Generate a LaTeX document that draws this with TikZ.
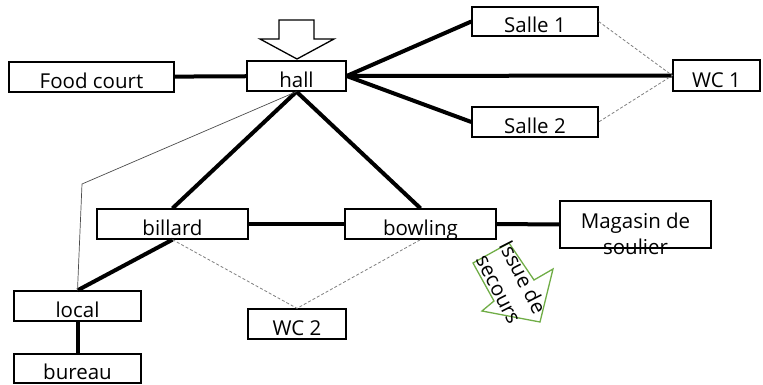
\documentclass[tikz,border=0pt]{standalone}
\usepackage{fontspec}
\setmainfont{Open Sans}
\usepackage{xcolor}
\usepackage{tikz}
\usetikzlibrary{positioning, arrows.meta}
\definecolor{exitgreen}{HTML}{70AD47}
\definecolor{dashgray}{HTML}{7F7F7F}

\tikzset{
  room/.style={draw, line width=1.3pt, inner sep=0pt, minimum height=30pt,
               text height=26.5pt, text depth=3.5pt},
  txt/.style={inner sep=0pt, anchor=base},
  corridor/.style={line width=4pt},
  link/.style={line width=0.7pt, draw=black!70},
  wc/.style={line width=0.8pt, draw=dashgray, dash pattern=on 3pt off 2pt}
}

\begin{document}
\begin{tikzpicture}[x=1pt, y=-1pt, font=\fontsize{20.5}{25}\selectfont]
  \useasboundingbox (0,0) rectangle (763,385);

  % rooms
  \node[room, minimum width=165pt] (food) at (91.5,77) {Food court};
  \node[room, minimum width=99pt] (hall) at (296.5,76) {hall};
  \node[room, minimum width=126pt, minimum height=29pt, text height=25.5pt] (salle1) at (535,21.5) {Salle 1};
  \node[room, minimum width=126pt] (salle2) at (535,122) {Salle 2};
  \node[room, minimum width=87pt, minimum height=31pt, text height=27.5pt] (wc1) at (716.5,75.5) {WC 1};
  \node[room, minimum width=151pt] (billard) at (172.5,224) {billard};
  \node[room, minimum width=151pt] (bowling) at (420.5,224) {bowling};
  \node[room, minimum width=151pt, minimum height=47pt] (shoes) at (635.5,224.5) {};
  \node[txt] (shoes1) at (635.5,228) {Magasin de};
  \node[txt] (shoes2) at (635.5,254) {soulier};
  \node[room, minimum width=127pt] (local) at (77.5,306) {local};
  \node[room, minimum width=127pt, minimum height=29pt, text height=25.5pt] (bureau) at (77.5,368.5) {bureau};
  \node[room, minimum width=98pt] (wc2) at (297,324) {WC 2};

  % main corridors
  \draw[corridor] (food) -- (hall);
  \draw[corridor] (hall.east) -- (salle1.west);
  \draw[corridor] (hall.east) -- (wc1.west);
  \draw[corridor] (hall.east) -- (salle2.west);
  \draw[corridor] (hall.south) -- (billard.north);
  \draw[corridor] (hall.south) -- (bowling.north);
  \draw[corridor] (billard) -- (bowling);
  \draw[corridor] (bowling) -- (shoes);
  \draw[corridor] (billard.south) -- (local.north);
  \draw[corridor] (local) -- (bureau);

  % secondary passage
  \coordinate (bend) at (82,184);
  \draw[link] (hall.south) -- (bend) -- (local.north);

  % toilets
  \draw[wc] (salle1.east) -- (wc1.west) -- (salle2.east);
  \draw[wc] (billard.south) -- (wc2.north) -- (bowling.south);

  % entrance
  \draw[line width=1.3pt, line join=miter]
    (279,20) -- (314,20) -- (314,39) -- (334,39) -- (297,59)
    -- (260,39) -- (279,39) -- cycle;

  % emergency exit
  \draw[exitgreen, line width=1.3pt, line join=miter]
    (473,263) -- (509,243) -- (534,280) -- (553,269) -- (540,322)
    -- (482,311) -- (494,301) -- cycle;
  \node[rotate=-63, align=center, inner sep=0pt,
        font=\fontsize{20.5}{27}\selectfont] (exit) at (511,283) {Issue de\\secours};
\end{tikzpicture}
\end{document}
